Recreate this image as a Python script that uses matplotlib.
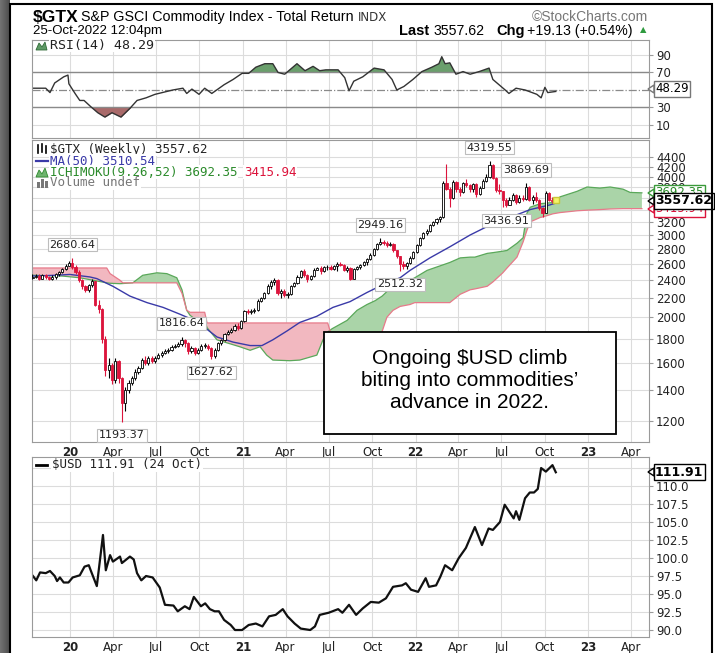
import numpy as np
import pandas as pd
import matplotlib
matplotlib.use('Agg')
import matplotlib.pyplot as plt
import matplotlib.dates as mdates
from matplotlib.patches import Rectangle, Polygon
from matplotlib.lines import Line2D

# ---- weekly $GTX candles (weeks starting 2019-10-14) ----
week_start = '2019-10-14'
first_open = 2430
closes = [
    2440, 2450, 2420, 2460, 2440, 2420, 2440, 2470, 2500, 2540, 2580, 2610,
    2560, 2500, 2400, 2330, 2290, 2340, 2390, 2130, 2080, 1800, 1540, 1580, 1470,
    1610, 1480, 1310, 1400, 1450, 1480, 1530, 1560, 1620, 1600, 1640, 1610, 1640,
    1660, 1680, 1690, 1700, 1730, 1740, 1750, 1790, 1760, 1690, 1720, 1680, 1700,
    1740, 1740, 1720, 1650, 1700, 1760, 1790, 1840, 1860, 1880, 1920, 1900, 1960,
    2060, 2050, 2060, 2070, 2170, 2200, 2250, 2330, 2380, 2400, 2250, 2280, 2230,
    2240, 2330, 2370, 2440, 2510, 2460, 2410, 2450, 2530, 2550, 2510, 2560, 2560,
    2540, 2570, 2600, 2590, 2530, 2550, 2420, 2540, 2560, 2590, 2620, 2660, 2720,
    2800, 2870, 2900, 2880, 2860, 2870, 2780, 2700, 2600, 2570, 2610, 2680, 2760,
    2850, 2950, 3030, 3060, 3150, 3200, 3240, 3270, 3880, 3760, 3600, 3900, 3760,
    3700, 3880, 3830, 3760, 3850, 3680, 3790, 3920, 3990, 4230, 3980, 3750, 3720,
    3560, 3480, 3570, 3660, 3530, 3600, 3580, 3800, 3570, 3620, 3560, 3430, 3350,
    3690, 3560, 3540, 3557.62,
]
highs = [
    2470, 2475, 2470, 2480, 2470, 2455, 2460, 2490, 2515, 2555, 2595, 2640,
    2680.64, 2590, 2520, 2420, 2350, 2360, 2410, 2395, 2180, 2090, 1820, 1640, 1600,
    1640, 1620, 1490, 1420, 1470, 1500, 1550, 1575, 1640, 1650, 1655, 1650, 1655,
    1675, 1690, 1710, 1715, 1745, 1755, 1770, 1816.64, 1800, 1770, 1735, 1725, 1715,
    1755, 1760, 1750, 1730, 1715, 1775, 1800, 1850, 1875, 1900, 1935, 1940, 1975,
    2075, 2085, 2080, 2090, 2185, 2215, 2270, 2360, 2400, 2430, 2410, 2300, 2300,
    2270, 2345, 2385, 2460, 2530, 2540, 2470, 2465, 2545, 2565, 2570, 2575, 2585,
    2590, 2585, 2625, 2620, 2600, 2570, 2560, 2555, 2580, 2605, 2640, 2675, 2740,
    2820, 2890, 2949.16, 2930, 2910, 2900, 2880, 2790, 2710, 2640, 2625, 2700, 2775,
    2865, 2965, 3050, 3090, 3170, 3220, 3260, 3300, 3920, 4260, 3800, 3930, 3910,
    3800, 3900, 3960, 3860, 3880, 3870, 3810, 3950, 4050, 4319.55, 4250, 3990, 3860,
    3730, 3600, 3620, 3690, 3670, 3650, 3660, 3869.69, 3810, 3650, 3700, 3580, 3450,
    3720, 3700, 3620, 3600,
]
lows = [
    2410, 2425, 2400, 2410, 2420, 2400, 2405, 2420, 2455, 2490, 2530, 2570,
    2540, 2480, 2380, 2300, 2260, 2270, 2320, 2110, 2040, 1760, 1500, 1480, 1440,
    1450, 1450, 1193.37, 1260, 1380, 1430, 1470, 1510, 1550, 1580, 1580, 1595, 1600,
    1630, 1645, 1670, 1675, 1690, 1720, 1730, 1740, 1730, 1670, 1680, 1665, 1670,
    1690, 1720, 1700, 1627.62, 1640, 1690, 1745, 1780, 1830, 1850, 1870, 1880, 1890,
    1950, 2030, 2030, 2040, 2060, 2160, 2190, 2240, 2300, 2350, 2230, 2200, 2210,
    2200, 2230, 2320, 2360, 2430, 2440, 2380, 2400, 2440, 2520, 2480, 2500, 2530,
    2520, 2530, 2510, 2570, 2510, 2500, 2400, 2410, 2530, 2540, 2580, 2590, 2650,
    2710, 2790, 2860, 2850, 2830, 2840, 2760, 2680, 2512.32, 2540, 2540, 2600, 2670,
    2750, 2840, 2940, 3000, 3050, 3130, 3170, 3200, 3260, 3740, 3450, 3590, 3700,
    3640, 3690, 3800, 3700, 3700, 3620, 3660, 3780, 3900, 3980, 3950, 3700, 3680,
    3440, 3436.91, 3470, 3540, 3500, 3510, 3540, 3570, 3540, 3500, 3530, 3400, 3270,
    3340, 3540, 3510, 3520,
]
price_labels = [('2020-01-06', 2680.64, 'top'), ('2020-04-20', 1193.37, 'bottom'),
                ('2020-08-24', 1816.64, 'top'), ('2020-10-26', 1627.62, 'bottom'),
                ('2021-10-18', 2949.16, 'top'), ('2021-11-29', 2512.32, 'bottom'),
                ('2022-06-06', 4319.55, 'top'), ('2022-08-22', 3869.69, 'top'),
                ('2022-07-11', 3436.91, 'bottom')]

# ---- MA(50) ----
ma_dates = ['2019-10-14', '2019-12-01', '2020-01-01', '2020-02-12', '2020-02-27',
            '2020-04-01', '2020-05-07', '2020-06-12', '2020-07-16', '2020-08-21',
            '2020-09-25', '2020-11-07', '2020-12-11', '2021-01-16', '2021-02-10',
            '2021-03-05', '2021-04-04', '2021-05-01', '2021-06-06', '2021-07-10',
            '2021-08-15', '2021-09-20', '2021-10-24', '2021-11-29', '2021-12-20',
            '2022-01-31', '2022-03-14', '2022-04-26', '2022-06-07', '2022-07-19',
            '2022-08-31', '2022-10-12', '2022-10-24']
ma_values = [2450, 2460, 2470, 2440, 2420, 2330, 2220, 2150, 2100, 2030, 1960, 1815,
             1770, 1740, 1740, 1790, 1870, 1950, 2010, 2100, 2160, 2260, 2350, 2430,
             2520, 2680, 2830, 3000, 3150, 3270, 3400, 3480, 3510.54]

# ---- Ichimoku cloud (span A / span B) ----
cloud_dates = ['2019-10-14', '2019-12-17', '2020-01-22', '2020-03-19', '2020-03-26',
               '2020-04-16', '2020-04-22', '2020-05-13', '2020-06-03', '2020-07-03',
               '2020-07-24', '2020-08-14', '2020-08-25', '2020-09-04', '2020-09-11',
               '2020-09-25', '2020-10-12', '2020-10-17', '2020-11-07', '2020-12-25',
               '2021-01-16', '2021-02-06', '2021-02-20', '2021-03-05', '2021-04-10',
               '2021-05-01', '2021-06-06', '2021-06-19', '2021-06-29', '2021-07-08',
               '2021-08-09', '2021-08-30', '2021-09-20', '2021-10-07', '2021-10-22',
               '2021-11-01', '2021-11-14', '2021-11-29', '2021-12-20', '2021-12-30',
               '2022-01-25', '2022-03-14', '2022-04-05', '2022-04-26', '2022-05-06',
               '2022-06-01', '2022-06-13', '2022-07-04', '2022-07-13', '2022-08-03',
               '2022-08-16', '2022-08-24', '2022-08-31', '2022-09-21', '2022-09-27',
               '2022-10-18', '2022-11-02', '2022-12-08', '2022-12-29', '2023-01-25',
               '2023-02-16', '2023-03-15', '2023-03-30', '2023-04-24']
span_a = [2460, 2450, 2430, 2370, 2365, 2360, 2362, 2370, 2460, 2490, 2480, 2430, 2290,
          2070, 2020, 1970, 1970, 1900, 1790, 1730, 1700, 1730, 1660, 1620, 1615, 1620,
          1660, 1790, 1860, 1890, 1970, 2070, 2130, 2170, 2220, 2270, 2300, 2320, 2400,
          2430, 2520, 2620, 2680, 2690, 2690, 2740, 2750, 2770, 2780, 2880, 2960, 3340,
          3440, 3500, 3505, 3520, 3620, 3720, 3800, 3780, 3800, 3760, 3700, 3692.35]
span_b = [2550, 2550, 2550, 2550, 2480, 2400, 2370, 2370, 2370, 2370, 2370, 2370, 2250,
          2070, 2050, 2050, 2050, 1945, 1945, 1945, 1945, 1945, 1945, 1945, 1945, 1945,
          1945, 1945, 1945, 1810, 1810, 1810, 1810, 1810, 1865, 2000, 2070, 2110, 2130,
          2150, 2150, 2150, 2240, 2290, 2300, 2330, 2380, 2490, 2550, 2690, 2900, 3070,
          3200, 3270, 3280, 3330, 3350, 3380, 3390, 3400, 3410, 3416, 3416, 3415.94]

# ---- RSI(14) ----
rsi_dates = ['2019-10-13', '2019-11-11', '2019-11-20', '2019-11-30', '2019-12-19',
             '2019-12-28', '2019-12-30', '2020-01-12', '2020-01-22', '2020-01-31',
             '2020-02-14', '2020-02-29', '2020-03-15', '2020-03-30', '2020-04-18',
             '2020-05-07', '2020-05-22', '2020-06-10', '2020-06-29', '2020-08-06',
             '2020-08-27', '2020-09-04', '2020-09-15', '2020-09-30', '2020-10-12',
             '2020-10-27', '2020-11-22', '2020-12-11', '2020-12-30', '2021-01-13',
             '2021-01-28', '2021-02-16', '2021-03-05', '2021-03-16', '2021-03-30',
             '2021-04-25', '2021-05-12', '2021-05-29', '2021-06-12', '2021-06-25',
             '2021-07-21', '2021-08-04', '2021-08-13', '2021-08-23', '2021-09-11',
             '2021-10-05', '2021-10-26', '2021-11-12', '2021-11-22', '2021-12-07',
             '2021-12-26', '2022-01-14', '2022-02-04', '2022-02-19', '2022-02-25',
             '2022-03-04', '2022-03-14', '2022-03-27', '2022-04-11', '2022-04-26',
             '2022-05-15', '2022-06-05', '2022-06-13', '2022-07-09', '2022-07-17',
             '2022-08-01', '2022-08-20', '2022-09-14', '2022-09-23', '2022-10-01',
             '2022-10-07', '2022-10-24']
rsi_values = [52, 52, 47, 58, 65, 67, 57, 46, 38, 38, 31, 24, 19, 24, 19, 29, 38, 41, 45,
              50, 52, 46, 51, 45, 52, 46, 56, 62, 69, 69, 76, 80, 80, 70, 68, 80, 72, 77,
              72, 73, 73, 64, 49, 60, 65, 75, 73, 62, 50, 54, 62, 71, 76, 80, 88, 80, 81,
              68, 71, 68, 71, 75, 62, 50, 46, 52, 50, 45, 41, 53, 47, 48.29]

# ---- $USD ----
usd_dates = ['2019-10-15', '2019-10-22', '2019-10-30', '2019-11-11', '2019-11-20',
             '2019-11-30', '2019-12-05', '2019-12-11', '2019-12-19', '2019-12-29',
             '2020-01-07', '2020-01-22', '2020-02-01', '2020-02-10', '2020-02-14',
             '2020-02-27', '2020-03-11', '2020-03-17', '2020-03-26', '2020-04-01',
             '2020-04-16', '2020-04-20', '2020-05-07', '2020-05-15', '2020-05-22',
             '2020-05-31', '2020-06-10', '2020-06-24', '2020-07-09', '2020-07-20',
             '2020-08-07', '2020-08-16', '2020-08-31', '2020-09-10', '2020-09-19',
             '2020-10-04', '2020-10-13', '2020-10-23', '2020-11-02', '2020-11-11',
             '2020-11-22', '2020-12-06', '2020-12-15', '2020-12-30', '2021-01-13',
             '2021-01-28', '2021-02-11', '2021-02-25', '2021-03-11', '2021-03-26',
             '2021-04-05', '2021-04-20', '2021-05-03', '2021-05-23', '2021-06-02',
             '2021-06-12', '2021-07-01', '2021-07-21', '2021-07-30', '2021-08-13',
             '2021-08-28', '2021-09-11', '2021-09-28', '2021-10-15', '2021-10-30',
             '2021-11-14', '2021-12-03', '2021-12-11', '2021-12-22', '2022-01-06',
             '2022-01-22', '2022-01-29', '2022-02-13', '2022-02-22', '2022-03-04',
             '2022-03-19', '2022-04-02', '2022-04-17', '2022-05-06', '2022-05-21',
             '2022-06-04', '2022-06-13', '2022-06-28', '2022-07-08', '2022-07-17',
             '2022-07-27', '2022-08-01', '2022-08-08', '2022-08-20', '2022-08-30',
             '2022-09-08', '2022-09-16', '2022-09-23', '2022-10-03', '2022-10-17',
             '2022-10-24']
usd_values = [97.5, 96.9, 98.0, 97.9, 98.2, 97.5, 96.8, 97.3, 96.6, 96.6, 97.3, 97.6,
              98.8, 99.0, 98.3, 96.1, 103.2, 98.3, 100.4, 99.5, 100.2, 99.3, 100.2, 99.8,
              97.9, 96.9, 97.5, 97.3, 95.9, 93.5, 93.4, 92.6, 93.3, 92.9, 94.6, 93.3,
              93.7, 92.9, 92.6, 92.6, 91.4, 90.7, 90.0, 90.0, 90.7, 90.9, 90.5, 91.9,
              92.1, 92.9, 91.9, 90.9, 90.2, 90.0, 90.5, 92.1, 92.4, 92.9, 92.4, 93.5,
              92.1, 93.0, 93.9, 93.8, 94.4, 96.0, 96.2, 96.5, 95.6, 95.3, 97.2, 96.0,
              96.2, 97.4, 99.0, 98.3, 100.0, 101.4, 104.3, 101.8, 104.1, 103.9, 105.0,
              107.4, 106.5, 105.5, 106.5, 105.3, 108.3, 109.1, 109.1, 109.6, 112.5, 112.0,
              112.9, 111.91]

quarter_ticks = pd.date_range('2020-01-01', '2023-04-01', freq='QS')
quarter_labels = ['20', 'Apr', 'Jul', 'Oct', '21', 'Apr', 'Jul', 'Oct',
                  '22', 'Apr', 'Jul', 'Oct', '23', 'Apr']
price_ticks = list(range(1200, 4401, 200))
hidden_price_labels = [3400, 3600]   # fully covered by the value tags
rsi_ticks = [10, 30, 70, 90]
usd_ticks = [90.0, 92.5, 95.0, 97.5, 100.0, 102.5, 105.0, 107.5, 110.0, 112.5]

W, H = 715, 653
GRID = '#dcdcdc'
RED = '#dc143c'
GREEN_FILL = '#aad4a8'
GREEN_LINE = '#5aa85a'
RED_FILL = '#f2b8c0'
RED_LINE = '#e77a8a'
MONO = 'DejaVu Sans Mono'
ARIAL = 'Liberation Sans'


def fbox(l, t, r, b):
    return [l / W, 1 - b / H, (r - l) / W, (b - t) / H]


def fx(x):
    return x / W


def fy(y):
    return 1 - y / H


def ftext(x, y, s, **kw):
    kw.setdefault('va', 'center')
    return fig.text(fx(x), fy(y), s, **kw)


def fline(xs, ys, **kw):
    fig.add_artist(Line2D([fx(v) for v in xs], [fy(v) for v in ys], **kw))


def fpoly(pts, **kw):
    fig.add_artist(Polygon([(fx(a), fy(b)) for a, b in pts], closed=True,
                           transform=fig.transFigure, **kw))


def tag(y_px, s, ec, color='black', weight='normal', size=8.5):
    ftext(655, y_px, s, ha='left', color=color, fontweight=weight, fontsize=size,
          bbox=dict(boxstyle='square,pad=0.12', fc='white', ec=ec, lw=1.0), zorder=6)
    fpoly([(648, y_px), (654, y_px - 4), (654, y_px + 4)], fc='white', ec=ec, lw=1.0, zorder=6)


fig = plt.figure(figsize=(W / 100, H / 100), dpi=100)
fig.patch.set_facecolor('white')

xmin = mdates.date2num(pd.Timestamp('2019-10-13'))
xmax = mdates.date2num(pd.Timestamp('2023-05-09'))
qx = mdates.date2num(quarter_ticks)


def style_axis(ax, show_x):
    ax.set_xlim(xmin, xmax)
    ax.set_xticks(qx)
    ax.grid(True, axis='both', color=GRID, lw=0.8)
    ax.set_axisbelow(True)
    for sp in ax.spines.values():
        sp.set_color('#9a9a9a')
        sp.set_linewidth(0.8)
    ax.yaxis.tick_right()
    ax.tick_params(axis='y', length=3, color='#9a9a9a', labelsize=8.5, labelcolor='#222', pad=2)
    ax.tick_params(axis='x', length=0, labelsize=8.5, labelcolor='#222', pad=3)
    if show_x:
        ax.set_xticklabels(quarter_labels)
        for lab in ax.get_xticklabels():
            if lab.get_text().isdigit():
                lab.set_fontweight('bold')
    else:
        ax.set_xticklabels([])


# ---- RSI panel ----
ax_r = fig.add_axes(fbox(32, 40, 649, 138))
rd = mdates.date2num(pd.to_datetime(rsi_dates))
rv = np.array(rsi_values, dtype=float)
ax_r.set_ylim(-4.9, 107.1)
style_axis(ax_r, False)
ax_r.set_yticks(rsi_ticks)
ax_r.set_yticklabels([str(t) for t in rsi_ticks])
ax_r.axhline(70, color='#8a8a8a', lw=1.0)
ax_r.axhline(30, color='#8a8a8a', lw=1.0)
ax_r.axhline(50, color='#8a8a8a', lw=0.9, ls='-.')
ax_r.fill_between(rd, rv, 70, where=rv > 70, interpolate=True, color='#6a9f6c', lw=0)
ax_r.fill_between(rd, rv, 30, where=rv < 30, interpolate=True, color='#a96a6a', lw=0)
ax_r.plot(rd, rv, color='#333333', lw=1.0)

# ---- price panel ----
ax_p = fig.add_axes(fbox(32, 140, 649, 442))
ax_p.set_yscale('log')
ax_p.set_ylim(1082, 4790)
style_axis(ax_p, True)
ax_p.yaxis.set_minor_locator(matplotlib.ticker.NullLocator())
ax_p.set_yticks(price_ticks)
ax_p.set_yticklabels(['' if t in hidden_price_labels else str(t) for t in price_ticks])

cd = mdates.date2num(pd.to_datetime(cloud_dates))
sa = np.array(span_a, dtype=float)
sb = np.array(span_b, dtype=float)
ax_p.fill_between(cd, sa, sb, where=sa >= sb, interpolate=True, color=GREEN_FILL, lw=0, zorder=1)
ax_p.fill_between(cd, sa, sb, where=sa < sb, interpolate=True, color=RED_FILL, lw=0, zorder=1)
ax_p.plot(cd, sa, color=GREEN_LINE, lw=0.9, zorder=2)
ax_p.plot(cd, sb, color=RED_LINE, lw=0.9, zorder=2)

md = mdates.date2num(pd.to_datetime(ma_dates))
ax_p.plot(md, ma_values, color='#3a3aa8', lw=1.0, zorder=3)

wd = mdates.date2num(pd.date_range(week_start, periods=len(closes), freq='7D'))
opens = [first_open] + closes[:-1]
for x, o, c, h, l in zip(wd, opens, closes, highs, lows):
    up = c >= o
    col = 'black' if up else RED
    ax_p.vlines(x, l, h, color=col, lw=0.8, zorder=4)
    lo, hi = min(o, c), max(o, c)
    if hi - lo < 6:
        hi = lo + 6
    ax_p.bar(x, hi - lo, bottom=lo, width=4.6, color='white' if up else RED,
             edgecolor=col, lw=0.6, zorder=5)
ax_p.plot(wd[-1], closes[-1], marker='s', ms=5, mfc='#f4f46a', mec='#c8c83a', zorder=6)

for d, v, side in price_labels:
    xv = mdates.date2num(pd.Timestamp(d))
    off = 6 if side == 'top' else -6
    ax_p.annotate(f'{v:.2f}', (xv, v), xytext=(0, off), textcoords='offset points',
                  ha='center', va='bottom' if side == 'top' else 'top', fontsize=8,
                  color='#222', zorder=7,
                  bbox=dict(boxstyle='square,pad=0.15', fc='white', ec='#bdbdbd', lw=0.8))

# ---- $USD panel ----
ax_u = fig.add_axes(fbox(32, 457, 649, 637))
ax_u.set_ylim(89.03, 114.03)
style_axis(ax_u, True)
ax_u.set_yticks(usd_ticks)
ax_u.set_yticklabels([f'{t:.1f}' for t in usd_ticks])
ud = mdates.date2num(pd.to_datetime(usd_dates))
ax_u.plot(ud, usd_values, color='#111111', lw=1.6, solid_joinstyle='round')

# ---- left shadow and outer frame ----
sh = fig.add_axes([0, 0, 10 / W, 1])
sh.imshow(np.linspace(0.45, 0.3, 20).reshape(1, -1), cmap='gray', vmin=0, vmax=1,
          aspect='auto', extent=[0, 1, 0, 1])
sh.axis('off')
fig.add_artist(Rectangle((fx(10), fy(660)), fx(702), 656 / H, fill=False, ec='black',
                         lw=1.5, transform=fig.transFigure, zorder=8))

# ---- header ----
ftext(33, 17, '$GTX', fontsize=12.5, fontweight='bold', family=ARIAL)
ftext(81, 17, 'S&P GSCI Commodity Index - Total Return', fontsize=10.3, family=ARIAL)
ftext(358, 17.5, 'INDX', fontsize=8.5, color='#333')
ftext(648, 17, '\u00a9StockCharts.com', fontsize=10, color='#777', ha='right', family=ARIAL)
ftext(33, 31, '25-Oct-2022 12:04pm', fontsize=9.5, family=ARIAL)
ftext(399, 31, 'Last', fontsize=10.5, fontweight='bold', family=ARIAL)
ftext(434, 31, '3557.62', fontsize=10.2, family=ARIAL)
ftext(496, 31, 'Chg', fontsize=10.5, fontweight='bold', family=ARIAL)
ftext(527, 31, '+19.13 (+0.54%)', fontsize=10.2, family=ARIAL)
ftext(640, 30, '\u25b2', fontsize=6, color='#2e9a3e')

# ---- panel legends ----
fpoly([(36, 50), (39, 43), (42, 47), (45, 42), (47, 50)], fc='#5f9a66', ec='#2f6a36', lw=0.6, zorder=7)
ftext(50, 45, 'RSI(14) 48.29', fontsize=9.5, family=MONO, color='#222',
      bbox=dict(fc='white', ec='none', pad=0.5))

fline([38, 38], [145, 153], color='black', lw=1.2, zorder=7)
fline([42, 42], [144, 152], color='black', lw=1.2, zorder=7)
fline([46, 46], [146, 153], color='black', lw=1.2, zorder=7)
ftext(50, 149, '$GTX (Weekly) 3557.62', fontsize=9, family=MONO, color='#222',
      bbox=dict(fc='white', ec='none', pad=0.5))
fline([36, 48], [161, 161], color='#3a3aa8', lw=1.6, zorder=7)
ftext(50, 161, 'MA(50) 3510.54', fontsize=9, family=MONO, color='#3a3aa8',
      bbox=dict(fc='white', ec='none', pad=0.5))
fpoly([(36, 177), (39, 170), (42, 174), (45, 168), (48, 177)], fc='#6fb46f', ec='#2e8b2e', lw=0.6, zorder=7)
ftext(50, 172, 'ICHIMOKU(9,26,52) 3692.35', fontsize=9, family=MONO, color='#2a8a2a',
      bbox=dict(fc='white', ec='none', pad=0.5))
ftext(244, 172, '3415.94', fontsize=9, family=MONO, color=RED,
      bbox=dict(fc='white', ec='none', pad=0.5))
for bx, bh in [(37, 6), (41, 9), (45, 7)]:
    fig.add_artist(Rectangle((fx(bx), fy(188)), 2.5 / W, bh / H, fc='#777', ec='none',
                             transform=fig.transFigure, zorder=7))
ftext(50, 183, 'Volume undef', fontsize=9, family=MONO, color='#777',
      bbox=dict(fc='white', ec='none', pad=0.5))

fline([36, 47], [465, 465], color='black', lw=2.0, zorder=7)
ftext(52, 465, '$USD 111.91 (24 Oct)', fontsize=9, family=MONO, color='#222',
      bbox=dict(fc='white', ec='none', pad=0.5))

# ---- right-hand value tags ----
tag(89, '48.29', '#777')
tag(193, '3692.35', '#3a9a3a', color='#2a8a2a')
tag(209, '3415.94', RED, color=RED)
tag(201, '3557.62', 'black', weight='bold', size=9)
tag(472, '111.91', 'black', weight='bold', size=9)

# ---- annotation box ----
fig.add_artist(Rectangle((fx(324), fy(434)), fx(616 - 324), (434 - 332) / H, fc='white',
                         ec='black', lw=1.3, transform=fig.transFigure, zorder=7))
ftext(470, 381, 'Ongoing $USD climb\nbiting into commodities\u2019\nadvance in 2022.',
      ha='center', fontsize=15, family=ARIAL, linespacing=1.2, zorder=8)

fig.savefig('out.png', dpi=100)
